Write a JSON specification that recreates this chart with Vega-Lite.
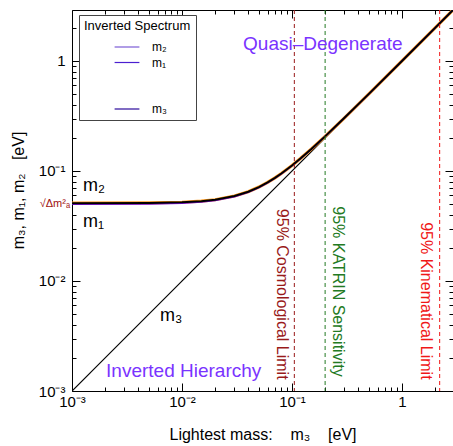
{
  "$schema": "https://vega.github.io/schema/vega-lite/v6.json",
  "autosize": "none",
  "padding": {"left": 72, "top": 10, "right": 0, "bottom": 55},
  "width": 381,
  "height": 381,
  "config": {
    "font": "Liberation Sans",
    "view": {"stroke": "black", "strokeWidth": 1},
    "axis": {"grid": false, "domain": false, "tickColor": "black", "labelColor": "black", "titleColor": "black", "titleFontWeight": "normal", "labelFont": "Liberation Sans", "titleFont": "Liberation Sans"}
  },
  "datasets": {
    "curve": [
      {"x": 0.001, "m1": 0.05001, "m2": 0.05101},
      {"x": 0.005, "m1": 0.05025, "m2": 0.05124},
      {"x": 0.01, "m1": 0.05099, "m2": 0.05197},
      {"x": 0.015, "m1": 0.0522, "m2": 0.05316},
      {"x": 0.02, "m1": 0.05385, "m2": 0.05478},
      {"x": 0.03, "m1": 0.05831, "m2": 0.05917},
      {"x": 0.04, "m1": 0.06403, "m2": 0.06482},
      {"x": 0.05, "m1": 0.07071, "m2": 0.07142},
      {"x": 0.06, "m1": 0.0781, "m2": 0.07875},
      {"x": 0.07, "m1": 0.08602, "m2": 0.08661},
      {"x": 0.08, "m1": 0.09434, "m2": 0.09487},
      {"x": 0.1, "m1": 0.1118, "m2": 0.1123},
      {"x": 0.12, "m1": 0.13, "m2": 0.1304},
      {"x": 0.15, "m1": 0.1581, "m2": 0.1584},
      {"x": 0.2, "m1": 0.2062, "m2": 0.2064},
      {"x": 0.3, "m1": 0.3041, "m2": 0.3043},
      {"x": 0.5, "m1": 0.5025, "m2": 0.5026},
      {"x": 1, "m1": 1.00125, "m2": 1.0013},
      {"x": 2, "m1": 2.0006, "m2": 2.0007},
      {"x": 2.908, "m1": 2.9084, "m2": 2.9084}
    ]
  },
  "layer": [
    {
      "data": {"values": [{"x": 0.001, "y": 0.001}, {"x": 2.908, "y": 2.908}]},
      "mark": {"type": "line", "color": "black", "strokeWidth": 1.2, "clip": true},
      "encoding": {
        "x": {"field": "x", "type": "quantitative", "scale": {"type": "log", "domain": [0.001, 2.908]},
          "axis": {"orient": "bottom",
            "values": [0.001,0.002,0.003,0.004,0.005,0.006,0.007,0.008,0.009,0.01,0.02,0.03,0.04,0.05,0.06,0.07,0.08,0.09,0.1,0.2,0.3,0.4,0.5,0.6,0.7,0.8,0.9,1,2],
            "labelExpr": "datum.value===0.001?'10⁻³':datum.value===0.01?'10⁻²':datum.value===0.1?'10⁻¹':datum.value===1?'1':''",
            "tickSize": {"condition": {"test": "datum.value===0.001||datum.value===0.01||datum.value===0.1||datum.value===1", "value": -8}, "value": -4},
            "labelFontSize": 15, "labelPadding": 11, "labelOverlap": false, "labelFlush": false,
            "title": "Lightest mass:\u00a0\u00a0\u00a0\u00a0m₃\u00a0\u00a0\u00a0\u00a0[eV]", "titleFontSize": 16, "titlePadding": 13}},
        "y": {"field": "y", "type": "quantitative", "scale": {"type": "log", "domain": [0.001, 2.908]},
          "axis": {"orient": "left",
            "values": [0.001,0.002,0.003,0.004,0.005,0.006,0.007,0.008,0.009,0.01,0.02,0.03,0.04,0.05,0.06,0.07,0.08,0.09,0.1,0.2,0.3,0.4,0.5,0.6,0.7,0.8,0.9,1,2],
            "labelExpr": "datum.value===0.001?'10⁻³':datum.value===0.01?'10⁻²':datum.value===0.1?'10⁻¹':datum.value===1?'1':''",
            "tickSize": {"condition": {"test": "datum.value===0.001||datum.value===0.01||datum.value===0.1||datum.value===1", "value": -8}, "value": -4},
            "labelFontSize": 15, "labelPadding": 15, "labelOverlap": false, "labelFlush": false,
            "title": "m₃, m₁, m₂\u00a0\u00a0\u00a0[eV]", "titleFontSize": 16, "titlePadding": 12, "titleY": 180}}
      }
    },
    {
      "data": {"name": "curve"},
      "mark": {"type": "line", "color": "#ff9a1a", "strokeWidth": 3.2, "clip": true},
      "encoding": {
        "x": {"field": "x", "type": "quantitative", "scale": {"type": "log", "domain": [0.001, 2.908]},
          "axis": {"orient": "top", "labels": false, "title": null,
            "values": [0.001,0.002,0.003,0.004,0.005,0.006,0.007,0.008,0.009,0.01,0.02,0.03,0.04,0.05,0.06,0.07,0.08,0.09,0.1,0.2,0.3,0.4,0.5,0.6,0.7,0.8,0.9,1,2],
            "tickSize": {"condition": {"test": "datum.value===0.001||datum.value===0.01||datum.value===0.1||datum.value===1", "value": -8}, "value": -4}}},
        "y": {"field": "m2", "type": "quantitative", "scale": {"type": "log", "domain": [0.001, 2.908]},
          "axis": {"orient": "right", "labels": false, "title": null,
            "values": [0.001,0.002,0.003,0.004,0.005,0.006,0.007,0.008,0.009,0.01,0.02,0.03,0.04,0.05,0.06,0.07,0.08,0.09,0.1,0.2,0.3,0.4,0.5,0.6,0.7,0.8,0.9,1,2],
            "tickSize": {"condition": {"test": "datum.value===0.001||datum.value===0.01||datum.value===0.1||datum.value===1", "value": -8}, "value": -4}}}
      }
    },
    {
      "data": {"name": "curve"},
      "mark": {"type": "line", "color": "#7a10e0", "strokeWidth": 1.6, "clip": true},
      "encoding": {
        "x": {"field": "x", "type": "quantitative", "scale": {"type": "log", "domain": [0.001, 2.908]}, "axis": null},
        "y": {"field": "m1", "type": "quantitative", "scale": {"type": "log", "domain": [0.001, 2.908]}, "axis": null}
      }
    },
    {
      "data": {"name": "curve"},
      "mark": {"type": "line", "color": "black", "strokeWidth": 2, "clip": true},
      "encoding": {
        "x": {"field": "x", "type": "quantitative", "scale": {"type": "log", "domain": [0.001, 2.908]}, "axis": null},
        "y": {"field": "m2", "type": "quantitative", "scale": {"type": "log", "domain": [0.001, 2.908]}, "axis": null}
      }
    },
    {
      "data": {"values": [{"x": 0.105}]},
      "mark": {"type": "rule", "color": "#991a1a", "strokeDash": [4, 3], "strokeWidth": 1},
      "encoding": {"x": {"field": "x", "type": "quantitative", "scale": {"type": "log", "domain": [0.001, 2.908]}, "axis": null}}
    },
    {
      "data": {"values": [{"x": 0.2}]},
      "mark": {"type": "rule", "color": "#237a23", "strokeDash": [4, 3], "strokeWidth": 1},
      "encoding": {"x": {"field": "x", "type": "quantitative", "scale": {"type": "log", "domain": [0.001, 2.908]}, "axis": null}}
    },
    {
      "data": {"values": [{"x": 2.2}]},
      "mark": {"type": "rule", "color": "#f01818", "strokeDash": [4, 3], "strokeWidth": 1},
      "encoding": {"x": {"field": "x", "type": "quantitative", "scale": {"type": "log", "domain": [0.001, 2.908]}, "axis": null}}
    },
    {
      "data": {"values": [{"x": 0.0949, "y": 0.00127, "t": "95% Cosmological Limit"}]},
      "mark": {"type": "text", "color": "#991a1a", "fontSize": 16, "angle": 90, "align": "right", "baseline": "top"},
      "encoding": {
        "x": {"field": "x", "type": "quantitative", "scale": {"type": "log", "domain": [0.001, 2.908]}, "axis": null},
        "y": {"field": "y", "type": "quantitative", "scale": {"type": "log", "domain": [0.001, 2.908]}, "axis": null},
        "text": {"field": "t"}
      }
    },
    {
      "data": {"values": [{"x": 0.2215, "y": 0.00135, "t": "95% KATRIN Sensitivity"}]},
      "mark": {"type": "text", "color": "#237a23", "fontSize": 16, "angle": 90, "align": "right", "baseline": "bottom"},
      "encoding": {
        "x": {"field": "x", "type": "quantitative", "scale": {"type": "log", "domain": [0.001, 2.908]}, "axis": null},
        "y": {"field": "y", "type": "quantitative", "scale": {"type": "log", "domain": [0.001, 2.908]}, "axis": null},
        "text": {"field": "t"}
      }
    },
    {
      "data": {"values": [{"x": 1.97, "y": 0.00127, "t": "95% Kinematical Limit"}]},
      "mark": {"type": "text", "color": "#f01818", "fontSize": 16, "angle": 90, "align": "right", "baseline": "top"},
      "encoding": {
        "x": {"field": "x", "type": "quantitative", "scale": {"type": "log", "domain": [0.001, 2.908]}, "axis": null},
        "y": {"field": "y", "type": "quantitative", "scale": {"type": "log", "domain": [0.001, 2.908]}, "axis": null},
        "text": {"field": "t"}
      }
    },
    {
      "data": {"values": [{"x": 0.0359, "y": 1.427, "t": "Quasi–Degenerate"}, {"x": 0.00204, "y": 0.00152, "t": "Inverted Hierarchy"}]},
      "mark": {"type": "text", "color": "#7a33ff", "fontSize": 19, "align": "left", "baseline": "middle"},
      "encoding": {
        "x": {"field": "x", "type": "quantitative", "scale": {"type": "log", "domain": [0.001, 2.908]}, "axis": null},
        "y": {"field": "y", "type": "quantitative", "scale": {"type": "log", "domain": [0.001, 2.908]}, "axis": null},
        "text": {"field": "t"}
      }
    },
    {
      "data": {"values": [{"x": 0.00126, "y": 0.0731, "t": "m₂"}, {"x": 0.00126, "y": 0.0344, "t": "m₁"}, {"x": 0.0063, "y": 0.00481, "t": "m₃"}]},
      "mark": {"type": "text", "color": "black", "fontSize": 18, "align": "left", "baseline": "middle"},
      "encoding": {
        "x": {"field": "x", "type": "quantitative", "scale": {"type": "log", "domain": [0.001, 2.908]}, "axis": null},
        "y": {"field": "y", "type": "quantitative", "scale": {"type": "log", "domain": [0.001, 2.908]}, "axis": null},
        "text": {"field": "t"}
      }
    },
    {
      "data": {"values": [{"x": 0.00096, "y": 0.0505, "t": "√Δm²ₐ"}]},
      "mark": {"type": "text", "color": "#a01010", "fontSize": 11, "align": "right", "baseline": "middle"},
      "encoding": {
        "x": {"field": "x", "type": "quantitative", "scale": {"type": "log", "domain": [0.001, 2.908]}, "axis": null},
        "y": {"field": "y", "type": "quantitative", "scale": {"type": "log", "domain": [0.001, 2.908]}, "axis": null},
        "text": {"field": "t"}
      }
    },
    {
      "data": {"values": []},
      "mark": {"type": "line"},
      "encoding": {
        "x": {"field": "x", "type": "quantitative", "scale": {"type": "log", "domain": [0.001, 2.908]}, "axis": null},
        "y": {"field": "y", "type": "quantitative", "scale": {"type": "log", "domain": [0.001, 2.908]}, "axis": null},
        "color": {"field": "k", "type": "nominal",
          "scale": {"domain": ["m₂", "m₁", " ", "  ", "m₃"], "range": ["#7b5cd6", "#4b1fd0", "transparent", "transparent", "#2a0a9a"]},
          "legend": {"orient": "none", "legendX": 7, "legendY": 5, "title": "Inverted Spectrum",
            "titleFontSize": 13, "titleFontWeight": "normal", "titleColor": "black", "titleFont": "Liberation Sans", "titlePadding": 8,
            "labelFontSize": 12, "labelFont": "Liberation Sans", "labelColor": "black",
            "symbolType": "M-3.1,0H3.1", "symbolSize": 64, "symbolStrokeWidth": 1.2, "symbolOffset": 37, "labelOffset": 19,
            "rowPadding": 3.5, "padding": 5, "strokeColor": "#444", "fillColor": "white"}}
      }
    }
  ],
  "resolve": {"axis": {"x": "independent", "y": "independent"}}
}
